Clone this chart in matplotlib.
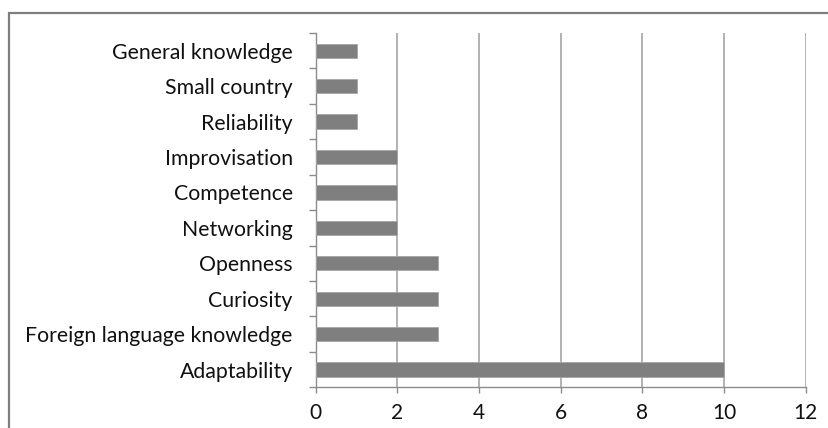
import matplotlib.pyplot as plt
from matplotlib.patches import Rectangle

categories = ['Adaptability', 'Foreign language knowledge', 'Curiosity', 'Openness',
              'Networking', 'Competence', 'Improvisation', 'Reliability',
              'Small country', 'General knowledge']
counts = [10, 3, 3, 3, 2, 2, 2, 1, 1, 1]
xticks = [0, 2, 4, 6, 8, 10, 12]

plt.rcParams['font.family'] = ['Lato', 'DejaVu Sans']

fig = plt.figure(figsize=(8.29, 4.28), dpi=100)
ax = fig.add_axes([0.3808, 0.0951, 0.5911, 0.8278])

pos = list(range(len(categories)))
ax.barh(pos, counts, height=0.4, color='#7f7f7f', edgecolor='#a6a6a6',
        linewidth=0.6, zorder=3)

ax.set_xlim(0, 12)
ax.set_ylim(-0.5, len(categories) - 0.5)
ax.set_xticks(xticks)
ax.set_xticklabels([str(t) for t in xticks], fontsize=15, color='#111111')
ax.set_yticks(pos)
ax.set_yticklabels(categories, fontsize=15.3, color='#111111')
ax.tick_params(axis='y', length=0, pad=16.5)
ax.tick_params(axis='x', length=4, width=1, color='#8c8c8c', pad=7.5)

# category boundary ticks on the y axis
ax.set_yticks([p - 0.5 for p in pos] + [len(categories) - 0.5], minor=True)
ax.tick_params(axis='y', which='minor', length=5, width=1, color='#8c8c8c')

ax.grid(axis='x', color='#a6a6a6', linewidth=1.2, zorder=0)
ax.set_axisbelow(True)
for s in ['top', 'right']:
    ax.spines[s].set_visible(False)
for s in ['left', 'bottom']:
    ax.spines[s].set_color('#8c8c8c')
    ax.spines[s].set_linewidth(1)

# outer chart frame, cropped on right and bottom
fig.patches.append(Rectangle((9 / 829, -0.1), 1.2, 1.1 - 13 / 428,
                             transform=fig.transFigure, fill=False,
                             edgecolor='#7f7f7f', linewidth=1.6))

plt.savefig('out.png', dpi=100)
